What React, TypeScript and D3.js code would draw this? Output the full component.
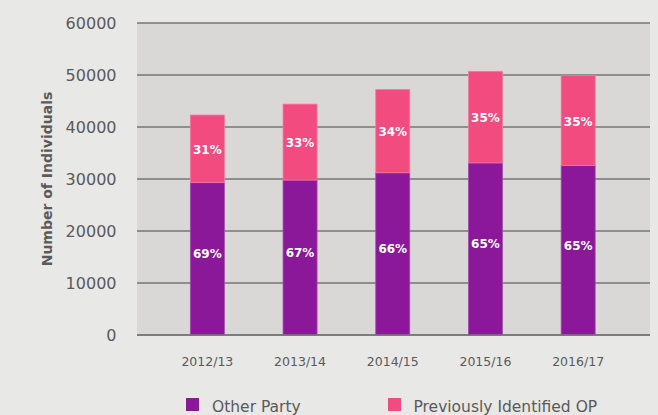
import React from "react";
import * as d3 from "d3";

const categories = ["2012/13", "2013/14", "2014/15", "2015/16", "2016/17"];
const otherParty = [29300, 29800, 31200, 33100, 32600];
const previousOP = [13000, 14600, 16000, 17600, 17300];
const otherPct = ["69%", "67%", "66%", "65%", "65%"];
const prevPct = ["31%", "33%", "34%", "35%", "35%"];
const yTicks = [0, 10000, 20000, 30000, 40000, 50000, 60000];
const seriesNames = ["Other Party", "Previously Identified OP"];

const W = 658;
const H = 415;
const FONT = "'DejaVu Sans', sans-serif";
const PURPLE = "#8a1899";
const PINK = "#f24b80";

export default function App() {
  const plotLeft = 137;
  const plotRight = 650;
  const plotTop = 23;
  const plotBottom = 335;

  const y = d3.scaleLinear().domain([0, 60000]).range([plotBottom, plotTop]);
  const x = d3
    .scaleBand<string>()
    .domain(categories)
    .range([161, 624.5])
    .paddingInner(0.633)
    .paddingOuter(0.3165);
  const bw = x.bandwidth();

  return (
    <svg
      width={W}
      height={H}
      style={{ position: "absolute", left: 0, top: 0, display: "block" }}
    >
      <rect x={0} y={0} width={W} height={H} fill="#e8e8e6" />
      <rect
        x={plotLeft}
        y={plotTop}
        width={plotRight - plotLeft}
        height={plotBottom - plotTop}
        fill="#d9d8d6"
      />
      {yTicks.map((t) => (
        <g key={t}>
          <line
            x1={plotLeft}
            x2={plotRight}
            y1={y(t)}
            y2={y(t)}
            stroke="#767676"
            strokeWidth={1.6}
          />
          <text
            x={116.5}
            y={y(t)}
            dy="0.36em"
            textAnchor="end"
            fontFamily={FONT}
            fontSize={16}
            fill="#5a5a5a"
          >
            {t}
          </text>
        </g>
      ))}
      {categories.map((c, i) => {
        const x0 = x(c)!;
        const yOp = y(otherParty[i]);
        const yTop = y(otherParty[i] + previousOP[i]);
        const cx = x0 + bw / 2;
        return (
          <g key={c}>
            <rect
              x={x0}
              y={yOp}
              width={bw}
              height={plotBottom - yOp}
              fill={PURPLE}
              stroke="#a54bb0"
              strokeWidth={0.8}
            />
            <rect
              x={x0}
              y={yTop}
              width={bw}
              height={yOp - yTop}
              fill={PINK}
              stroke="#f27aa0"
              strokeWidth={0.8}
            />
            <text
              x={cx}
              y={(yOp + plotBottom) / 2 - 5}
              dy="0.36em"
              textAnchor="middle"
              fontFamily={FONT}
              fontWeight="bold"
              fontSize={12}
              fill="#ffffff"
            >
              {otherPct[i]}
            </text>
            <text
              x={cx}
              y={(yTop + yOp) / 2 + 1}
              dy="0.36em"
              textAnchor="middle"
              fontFamily={FONT}
              fontWeight="bold"
              fontSize={12}
              fill="#ffffff"
            >
              {prevPct[i]}
            </text>
            <text
              x={cx}
              y={361}
              dy="0.36em"
              textAnchor="middle"
              fontFamily={FONT}
              fontSize={12.5}
              fill="#5a5a5a"
            >
              {c}
            </text>
          </g>
        );
      })}
      <line
        x1={plotLeft}
        x2={plotRight}
        y1={plotBottom}
        y2={plotBottom}
        stroke="#767676"
        strokeWidth={1.6}
      />
      <text
        transform={`translate(47,${(plotTop + plotBottom) / 2}) rotate(-90)`}
        textAnchor="middle"
        dy="0.36em"
        fontFamily={FONT}
        fontWeight="bold"
        fontSize={14}
        fill="#5a5a5a"
      >
        Number of Individuals
      </text>
      <rect x={186} y={398} width={13} height={13} fill={PURPLE} />
      <text
        x={212}
        y={406}
        dy="0.36em"
        fontFamily={FONT}
        fontSize={15.5}
        fill="#5a5a5a"
      >
        {seriesNames[0]}
      </text>
      <rect x={388} y={398} width={13} height={13} fill={PINK} />
      <text
        x={413.5}
        y={406}
        dy="0.36em"
        fontFamily={FONT}
        fontSize={15.5}
        fill="#5a5a5a"
      >
        {seriesNames[1]}
      </text>
    </svg>
  );
}
